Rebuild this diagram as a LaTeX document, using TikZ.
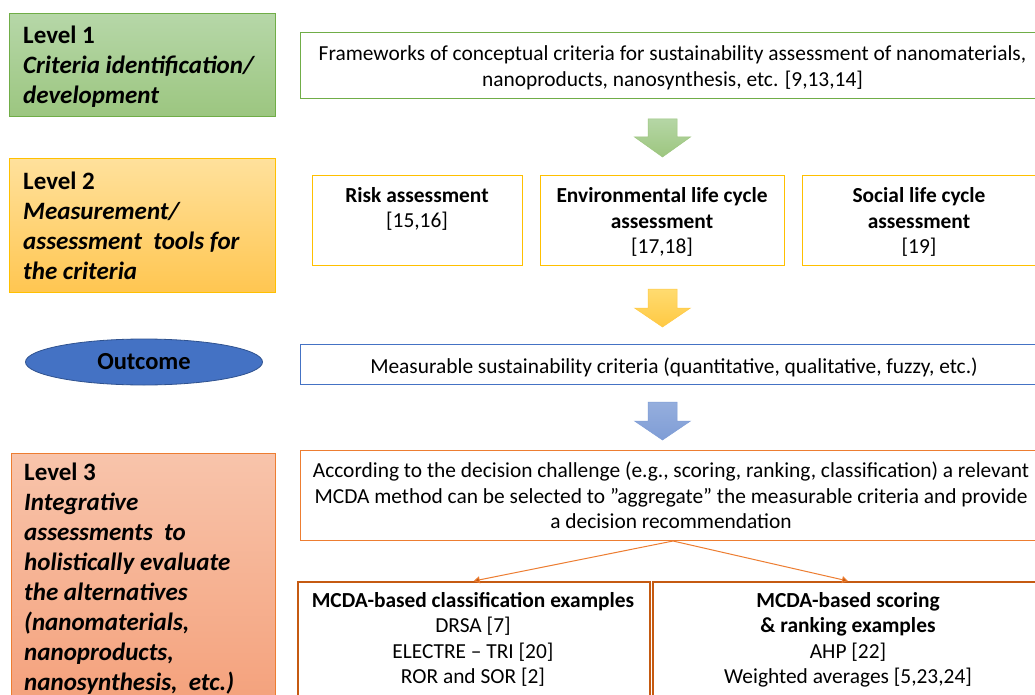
\documentclass[tikz,border=0pt]{standalone}
\usepackage{fontspec}
\setmainfont{Carlito}
\usetikzlibrary{shapes.geometric,arrows.meta}
\definecolor{gBorder}{HTML}{70AD47}
\definecolor{yBorder}{HTML}{FFC000}
\definecolor{bBorder}{HTML}{4472C4}
\definecolor{oBorder}{HTML}{ED7D31}
\definecolor{oDark}{HTML}{C55A11}
\definecolor{g1}{HTML}{B6D7A8}
\definecolor{g2}{HTML}{9CC680}
\definecolor{y1}{HTML}{FFE19C}
\definecolor{y2}{HTML}{FFC651}
\definecolor{s1}{HTML}{F8C4AB}
\definecolor{s2}{HTML}{F4A07A}
\definecolor{ga1}{HTML}{B5D6A5}
\definecolor{ga2}{HTML}{9DC67F}
\definecolor{ya1}{HTML}{FFDB70}
\definecolor{ya2}{HTML}{FFC943}
\definecolor{ba1}{HTML}{95AEDD}
\definecolor{ba2}{HTML}{7F9DD6}
\definecolor{eFill}{HTML}{4472C4}
\definecolor{eDraw}{HTML}{2F528F}
\tikzset{
  lvlbox/.style={draw=#1, line width=0.8pt, inner sep=0pt, anchor=north west},
  rbox/.style={draw=#1, fill=white, line width=1.2pt, inner sep=0pt, anchor=north west},
  lvltext/.style={anchor=base west, align=left, inner sep=0pt, font=\fontsize{25}{30}\selectfont\bfseries},
  bodytext/.style={anchor=base, align=center, inner sep=0pt, font=\fontsize{21.4}{25.5}\selectfont},
  conn/.style={draw=oBorder, line width=1pt, -{Triangle[width=7pt,length=6pt,fill=oDark]}},
}
\newcommand{\blockarr}[6]{% x center, shaft top, head start, tip, top color, bottom color
  \shade[top color=#5, bottom color=#6, draw=#6, line width=0.5pt]
    (#1-14.5,#2) -- (#1+14.5,#2) -- (#1+14.5,#3) -- (#1+28,#3) -- (#1,#4)
    -- (#1-28,#3) -- (#1-14.5,#3) -- cycle;}
\begin{document}
\begin{tikzpicture}[x=1pt,y=-1pt]
\useasboundingbox (0,0) rectangle (1035,695);
\clip (0,0) rectangle (1035,695);
\fill[white] (0,0) rectangle (1035,695);

% ---- left level boxes ----
\node[lvlbox=gBorder, top color=g1, bottom color=g2, minimum width=266pt, minimum height=103pt] (lv1) at (9,13) {};
\node[lvltext] (lv1t) at (23,104) {Level 1\\\itshape Criteria identification/\\\itshape development};

\node[lvlbox=yBorder, top color=y1, bottom color=y2, minimum width=266pt, minimum height=134pt] (lv2) at (9,158) {};
\node[lvltext] (lv2t) at (23,279) {Level 2\\\itshape Measurement/\\\itshape assessment\ \ tools for\\\itshape the criteria};

\node[ellipse, draw=eDraw, fill=eFill, line width=0.8pt, minimum width=237pt, minimum height=46pt, inner sep=0pt,
      font=\fontsize{24.5}{28}\selectfont\bfseries] (out) at (144,362) {Outcome};

\node[lvlbox=oBorder, top color=s1, bottom color=s2, minimum width=264pt, minimum height=260pt] (lv3) at (11,453) {};
\node[lvltext] (lv3t) at (24,690) {Level 3\\\itshape Integrative\\\itshape assessments\ \ to\\\itshape holistically evaluate\\\itshape the alternatives\\\itshape (nanomaterials,\\\itshape nanoproducts,\\\itshape nanosynthesis,\ \ etc.)};

% ---- right column ----
\node[rbox=gBorder, minimum width=745pt, minimum height=66pt] (fw) at (300,32) {};
\node[bodytext] (fwt) at (672.5,86.5) {Frameworks of conceptual criteria for sustainability assessment of nanomaterials,\\nanoproducts, nanosynthesis, etc. [9,13,14]};

\blockarr{662.5}{119}{137}{157}{ga1}{ga2}

\node[rbox=yBorder, minimum width=210pt, minimum height=90pt] (ra) at (312,175) {};
\node[bodytext] (rat) at (417,227.5) {\bfseries Risk assessment\\{}[15,16]};
\node[rbox=yBorder, minimum width=244pt, minimum height=90pt] (ea) at (540,175) {};
\node[bodytext] (eat) at (662,253.5) {\bfseries Environmental life cycle\\\bfseries assessment\\{}[17,18]};
\node[rbox=yBorder, minimum width=234pt, minimum height=90pt] (sa) at (802,175) {};
\node[bodytext] (sat) at (919,253.5) {\bfseries Social life cycle\\\bfseries assessment\\{}[19]};

\blockarr{662.5}{289}{308}{327}{ya1}{ya2}

\node[rbox=bBorder, minimum width=745pt, minimum height=40pt] (ms) at (300,344) {};
\node[bodytext] (mst) at (674,373.5) {Measurable sustainability criteria (quantitative, qualitative, fuzzy, etc.)};

\blockarr{662.5}{402}{421}{440}{ba1}{ba2}

\node[rbox=oBorder, minimum width=745pt, minimum height=90pt] (dc) at (300,450) {};
\node[bodytext] (dct) at (671,528.5) {According to the decision challenge (e.g., scoring, ranking, classification) a relevant\\MCDA method can be selected to ”aggregate” the measurable criteria and provide\\a decision recommendation};

\node[rbox=oDark, line width=1.5pt, minimum width=352pt, minimum height=140pt] (bl) at (297,581) {};
\node[bodytext] (blt) at (473,683.5) {\bfseries MCDA-based classification examples\\DRSA [7]\\ELECTRE – TRI [20]\\ROR and SOR [2]};
\node[rbox=oDark, line width=1.5pt, minimum width=392pt, minimum height=140pt] (br) at (652,581) {};
\node[bodytext] (brt) at (848,683.5) {\bfseries MCDA-based scoring\\\bfseries \& ranking examples\\AHP [22]\\Weighted averages [5,23,24]};

\coordinate (src) at (673,541);
\draw[conn] (src) -- (bl.north);
\draw[conn] (src) -- (br.north -| 848,0);
\end{tikzpicture}
\end{document}
